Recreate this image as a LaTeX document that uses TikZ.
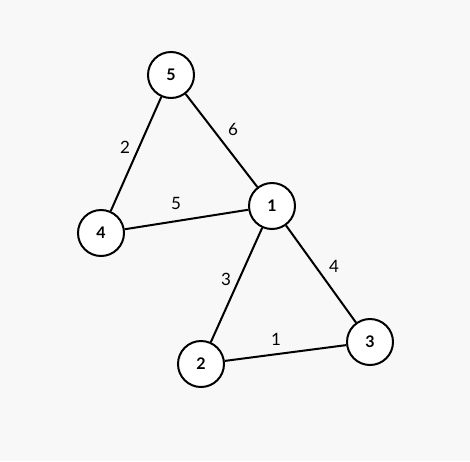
\documentclass[tikz,border=0pt]{standalone}
\usepackage{fontspec}
\setmainfont{Lato}
\definecolor{bgcol}{HTML}{F8F8F8}
\begin{document}
\begin{tikzpicture}[x=1pt, y=-1pt, font=\fontsize{17}{19}\selectfont,
  vert/.style={circle, draw, line width=2pt, fill=white, minimum size=46pt, inner sep=0pt, font=\fontsize{16}{18}\selectfont\bfseries},
  edge/.style={line width=2pt}]
 \fill[bgcol] (0,0) rectangle (470,461);
 \useasboundingbox (0,0) rectangle (470,461);
 \node[vert] (n5) at (171,75) {5};
 \node[vert] (n1) at (272,206) {1};
 \node[vert] (n4) at (101,233) {4};
 \node[vert] (n2) at (201,364) {2};
 \node[vert] (n3) at (370,342) {3};
 \draw[edge] (n5) -- (n4);
 \draw[edge] (n5) -- (n1);
 \draw[edge] (n4) -- (n1);
 \draw[edge] (n1) -- (n2);
 \draw[edge] (n1) -- (n3);
 \draw[edge] (n2) -- (n3);
 \node (w54) at (125,147) {2};
 \node (w51) at (233,129) {6};
 \node (w41) at (176,203) {5};
 \node (w12) at (226,279) {3};
 \node (w13) at (334,266) {4};
 \node (w23) at (276,339) {1};
\end{tikzpicture}
\end{document}
